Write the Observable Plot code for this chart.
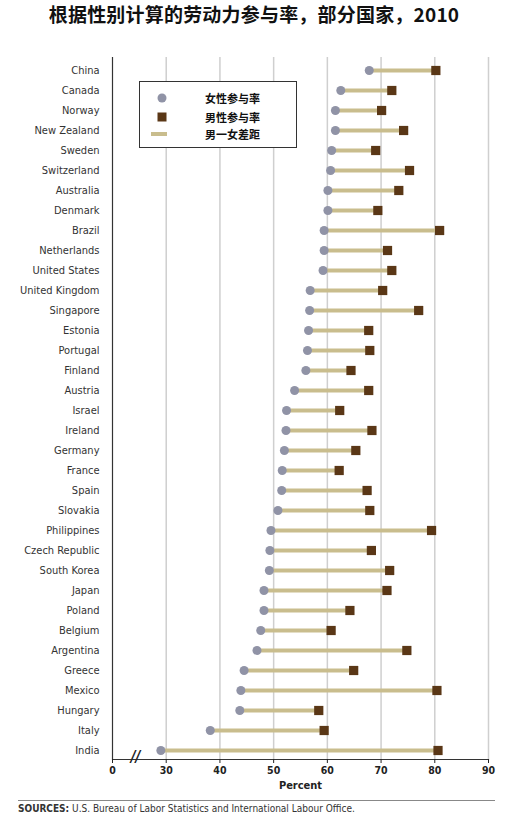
<!DOCTYPE html>
<html>
<head>
<meta charset="utf-8">
<script src="https://cdn.jsdelivr.net/npm/d3@7"></script>
<script src="https://cdn.jsdelivr.net/npm/@observablehq/plot@0.6"></script>
<style>
  body { margin: 0; background: #fff; width: 508px; position: relative; }
  #title { height: 40px; line-height: 38px; text-align: center; font: bold 19px "Noto Sans CJK SC", sans-serif; color: #111; letter-spacing: 0.2px; }
  #legend { position: absolute; left: 139px; top: 81px; width: 156px; height: 65px; border: 1px solid #333; background: #fff; }
  #legend .row { position: absolute; left: 0; height: 18px; width: 156px; }
  #legend svg { position: absolute; left: 8px; top: 0; }
  #legend span { position: absolute; left: 65px; top: 0; font: bold 11px "Noto Sans CJK SC", sans-serif; color: #111; line-height: 18px; }
  #source { margin: 0 13px 0 18px; border-top: 1px solid #888; padding-top: 2px; font-family: "DejaVu Sans", sans-serif; font-stretch: condensed; font-size: 10px; color: #333; }
  #chart svg text { font-stretch: condensed; }
</style>
</head>
<body>
<div id="title">根据性别计算的劳动力参与率，部分国家，2010</div>
<div id="chart"></div>
<div id="legend">
  <div class="row" style="top:7px"><svg width="30" height="18"><circle cx="14" cy="9" r="4.5" fill="#9093a6"/></svg><span>女性参与率</span></div>
  <div class="row" style="top:26px"><svg width="30" height="18"><rect x="9.5" y="4.5" width="9" height="9" fill="#5a3716"/></svg><span>男性参与率</span></div>
  <div class="row" style="top:43px"><svg width="30" height="18"><line x1="3" x2="19" y1="9" y2="9" stroke="#c9bd8d" stroke-width="4"/></svg><span>男一女差距</span></div>
</div>
<div id="source"><b>SOURCES:</b> U.S. Bureau of Labor Statistics and International Labour Office.</div>
<script>
// country order top to bottom (percent)
const countries = ['China', 'Canada', 'Norway', 'New Zealand', 'Sweden', 'Switzerland', 'Australia', 'Denmark',
  'Brazil', 'Netherlands', 'United States', 'United Kingdom', 'Singapore', 'Estonia', 'Portugal', 'Finland',
  'Austria', 'Israel', 'Ireland', 'Germany', 'France', 'Spain', 'Slovakia', 'Philippines', 'Czech Republic',
  'South Korea', 'Japan', 'Poland', 'Belgium', 'Argentina', 'Greece', 'Mexico', 'Hungary', 'Italy', 'India'];
const female = [67.8, 62.5, 61.5, 61.5, 60.8, 60.6, 60.1, 60.1, 59.4, 59.4, 59.2, 56.8, 56.7, 56.5, 56.3, 56.0,
  53.9, 52.4, 52.3, 52.0, 51.6, 51.5, 50.8, 49.5, 49.3, 49.2, 48.2, 48.2, 47.6, 46.9, 44.5, 43.9, 43.7, 38.2, 29.0];
const male = [80.2, 72.0, 70.1, 74.2, 69.0, 75.3, 73.3, 69.4, 80.9, 71.2, 72.0, 70.3, 77.0, 67.7, 67.9, 64.4,
  67.7, 62.3, 68.3, 65.3, 62.2, 67.4, 67.9, 79.4, 68.2, 71.6, 71.1, 64.2, 60.7, 74.8, 64.9, 80.4, 58.4, 59.4, 80.6];
// the axis is broken: the "0" tick sits where 20 would be
const axisStart = 20;
const xTicks = [axisStart, 30, 40, 50, 60, 70, 80, 90];
const gridTicks = [30, 40, 50, 60, 70, 80, 90];

const rows = countries.map((c, i) => ({ country: c, female: female[i], male: male[i] }));

const chart = Plot.plot({
  width: 508,
  height: 760,
  marginTop: 17,
  marginBottom: 41,
  marginLeft: 112,
  marginRight: 20,
  style: { fontFamily: '"DejaVu Sans", sans-serif', color: '#222', background: 'white' },
  x: { domain: [axisStart, 90] },
  y: { type: 'point', domain: countries, range: [28, 711], padding: 0 },
  marks: [
    Plot.ruleX(gridTicks, { stroke: '#cfcfcf', strokeWidth: 1.5 }),
    Plot.ruleX([axisStart], { stroke: '#333', strokeWidth: 1.2 }),
    Plot.frame({ anchor: 'bottom', stroke: '#333', strokeWidth: 1.2 }),
    Plot.ruleY(rows, { y: 'country', x1: 'female', x2: 'male', stroke: '#c9bd8d', strokeWidth: 4 }),
    Plot.dot(rows, { y: 'country', x: 'female', r: 4.5, fill: '#9093a6' }),
    Plot.dot(rows, { y: 'country', x: 'male', symbol: 'square', r: 5.2, fill: '#5a3716' }),
    Plot.axisY({ tickSize: 0, tickPadding: 13, fontSize: 11, label: null, fill: '#333' }),
    Plot.axisX({ ticks: xTicks, tickSize: 4, tickPadding: 3, fontSize: 10.5, fontWeight: 'bold', label: null,
      tickFormat: d => (d === axisStart ? 0 : d) }),
    Plot.text(['//'], { x: 24.3, frameAnchor: 'bottom', dy: 2, fontSize: 15, fontWeight: 'bold', fontStyle: 'italic', fill: '#222' }),
    Plot.text(['Percent'], { frameAnchor: 'bottom', dy: 29, fontSize: 11, fontWeight: 'bold' })
  ]
});
document.getElementById('chart').append(chart);
</script>
</body>
</html>
